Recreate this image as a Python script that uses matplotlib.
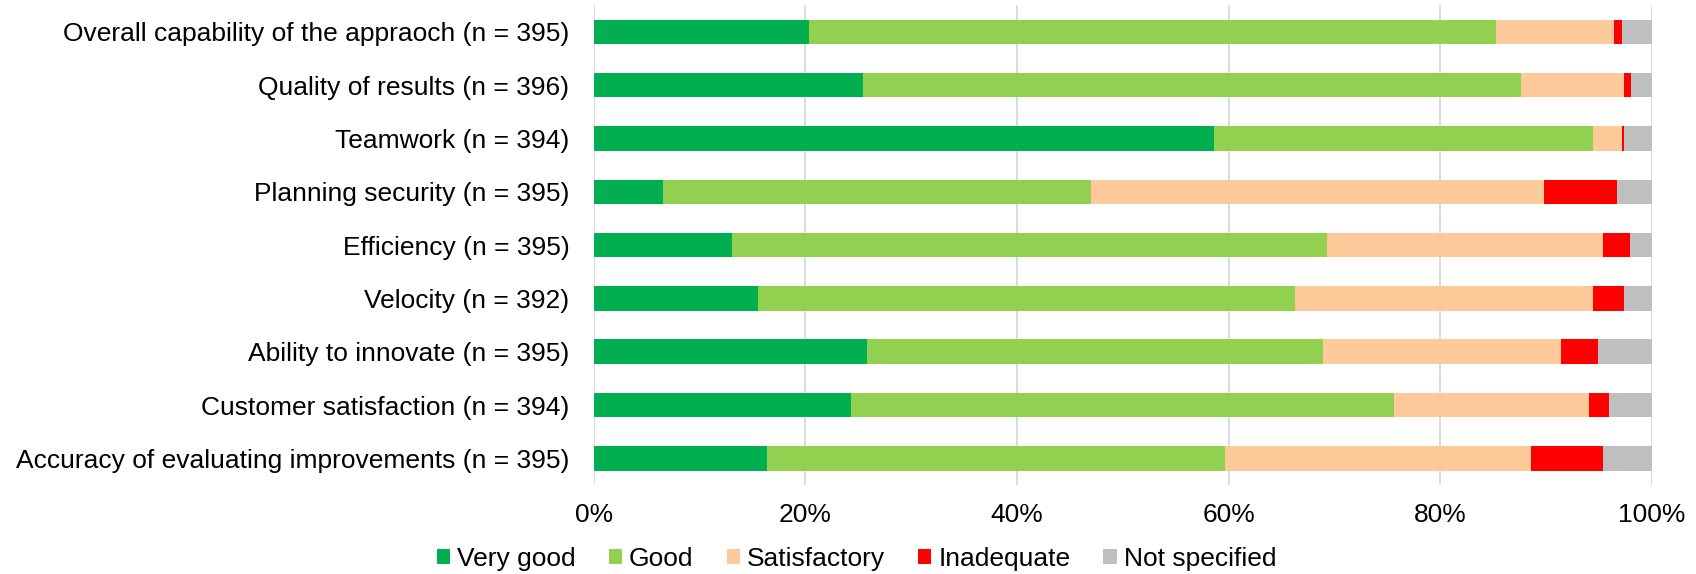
import numpy as np
import matplotlib
matplotlib.use('Agg')
import matplotlib.pyplot as plt
from matplotlib.patches import Patch

plt.rcParams['font.family'] = ['Liberation Sans', 'DejaVu Sans']

categories = ['Overall capability of the appraoch (n = 395)',
              'Quality of results (n = 396)',
              'Teamwork (n = 394)',
              'Planning security (n = 395)',
              'Efficiency (n = 395)',
              'Velocity (n = 392)',
              'Ability to innovate (n = 395)',
              'Customer satisfaction (n = 394)',
              'Accuracy of evaluating improvements (n = 395)']

very_good = [20.4, 25.5, 58.6, 6.6, 13.1, 15.5, 25.8, 24.3, 16.4]
good = [64.9, 62.1, 35.8, 40.4, 56.2, 50.8, 43.1, 51.3, 43.3]
satisfactory = [11.1, 9.8, 2.8, 42.8, 26.1, 28.1, 22.5, 18.5, 28.9]
inadequate = [0.8, 0.6, 0.2, 6.9, 2.5, 3.0, 3.5, 1.8, 6.8]
not_specified = [2.8, 2.0, 2.6, 3.3, 2.1, 2.6, 5.1, 4.1, 4.6]

series = ['Very good', 'Good', 'Satisfactory', 'Inadequate', 'Not specified']
colors = ['#00B050', '#92D050', '#FFCA99', '#FF0000', '#BFBFBF']

fig = plt.figure(figsize=(16.96, 5.74), dpi=100)
ax = fig.add_axes([0.35, 0.155, 0.624, 0.836])

y = np.arange(len(categories))
left = np.zeros(len(categories))
for name, vals, c in zip(series, [very_good, good, satisfactory, inadequate, not_specified], colors):
    vals = np.array(vals)
    ax.barh(y, vals, left=left, height=0.46, color=c, label=name, zorder=3)
    left += vals

ax.set_xlim(0, 100)
ax.set_ylim(len(categories) - 0.5, -0.5)
ax.set_yticks(y)
ax.set_yticklabels(categories, fontsize=19)
ax.set_xticks(np.arange(0, 101, 20))
ax.set_xticklabels([f'{v}%' for v in range(0, 101, 20)], fontsize=19)
ax.tick_params(axis='both', length=0)
ax.tick_params(axis='y', pad=17.5)
ax.tick_params(axis='x', pad=13)
ax.grid(axis='x', color='#D9D9D9', linewidth=1.3, zorder=0)
for s in ax.spines.values():
    s.set_visible(False)

handles = [Patch(facecolor=c, label=n) for n, c in zip(series, colors)]
fig.legend(handles=handles, loc='center', bbox_to_anchor=(0.505, 0.026), ncol=5,
           frameon=False, fontsize=19, handlelength=0.5, handleheight=0.5,
           handletextpad=0.27, columnspacing=1.25, borderpad=0.1)

plt.savefig('out.png', dpi=100)
